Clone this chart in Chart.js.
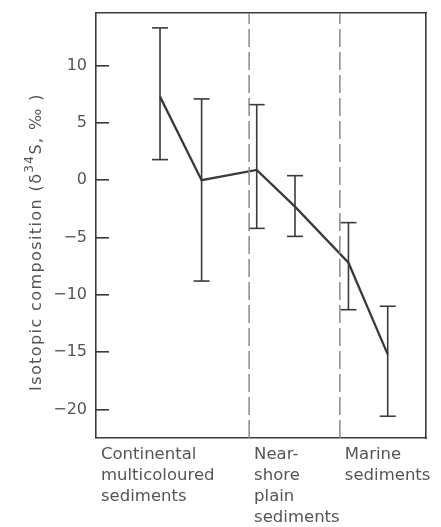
<!DOCTYPE html>
<html>
<head>
<meta charset="utf-8">
<script src="https://cdn.jsdelivr.net/npm/chart.js@4.4.1/dist/chart.umd.min.js"></script>
<style>
    html, body { margin: 0; padding: 0; background: #fff; }
    #wrap { width: 441px; height: 527px; }
</style>
</head>
<body>
<div id="wrap"><canvas id="chart"></canvas></div>
<script>
// ==================== DATA ====================

const zoneLabels = [
    ['Continental', 'multicoloured', 'sediments'],
    ['Near-', 'shore', 'plain', 'sediments'],
    ['Marine', 'sediments']
];
const zoneStarts = [0, 46.4, 73.9];          // left edge of each zone
const zoneDividers = [46.4, 73.9];

const sampleX = [19.4, 32.0, 48.7, 60.3, 76.5, 88.4];
const meanD34S = [7.3, 0.0, 0.9, -2.3, -7.2, -15.2];
const lowD34S = [1.8, -8.8, -4.2, -4.9, -11.3, -20.6];
const highD34S = [13.3, 7.1, 6.6, 0.4, -3.7, -11.0];

const yTicks = [-20, -15, -10, -5, 0, 5, 10];
const yMin = -22.5;
const yMax = 14.6;

// ==================== CHART ====================

const ink = '#3a3a3a';
const textColor = '#555';
const font = 'DejaVu Sans';

const datasets = [];

zoneDividers.forEach(x => {
    datasets.push({
        data: [{ x, y: yMin }, { x, y: yMax }],
        showLine: true,
        borderColor: '#8a8a8a',
        borderWidth: 1.5,
        borderDash: [18, 5],
        pointRadius: 0
    });
});

sampleX.forEach((x, i) => {
    datasets.push({
        data: [{ x, y: lowD34S[i] }, { x, y: highD34S[i] }],
        showLine: true,
        borderColor: ink,
        borderWidth: 1.6,
        pointStyle: 'line',
        pointRadius: 8,
        pointBorderWidth: 1.6,
        pointBorderColor: ink
    });
});

datasets.push({
    data: sampleX.map((x, i) => ({ x, y: meanD34S[i] })),
    showLine: true,
    borderColor: ink,
    borderWidth: 2.3,
    pointRadius: 0
});

// rotated axis title with a superscript isotope number
const yTitlePlugin = {
    id: 'yTitle',
    afterDraw(chart) {
        const ctx = chart.ctx;
        const parts = [
            { t: 'Isotopic composition (δ', sup: false },
            { t: '34', sup: true },
            { t: 'S, ‰ )', sup: false }
        ];
        const main = '16px "' + font + '"';
        const small = '12px "' + font + '"';
        ctx.save();
        ctx.letterSpacing = '1.4px';
        let total = 0;
        parts.forEach(p => {
            ctx.font = p.sup ? small : main;
            p.w = ctx.measureText(p.t).width;
            total += p.w;
        });
        ctx.translate(41, 242);
        ctx.rotate(-Math.PI / 2);
        ctx.fillStyle = textColor;
        ctx.textBaseline = 'alphabetic';
        let x = -total / 2;
        parts.forEach(p => {
            ctx.font = p.sup ? small : main;
            ctx.fillText(p.t, x, p.sup ? -8 : 0);
            x += p.w;
        });
        ctx.restore();
    }
};

new Chart(document.getElementById('chart'), {
    type: 'scatter',
    data: { datasets },
    plugins: [yTitlePlugin],
    options: {
        responsive: true,
        maintainAspectRatio: false,
        animation: false,
        layout: { padding: { top: 13, right: 15, left: 0, bottom: 0 } },
        plugins: {
            legend: { display: false },
            tooltip: { enabled: false }
        },
        scales: {
            x: {
                type: 'linear',
                position: 'bottom',
                min: 0,
                max: 100,
                afterBuildTicks: s => { s.ticks = zoneStarts.map(v => ({ value: v })); },
                afterFit: s => {
                    s.height = 89;
                    s.paddingLeft = 0;
                    s.paddingRight = 0;
                },
                grid: { drawOnChartArea: false, drawTicks: false },
                border: { color: ink, width: 1.6 },
                ticks: {
                    autoSkip: false,
                    maxRotation: 0,
                    align: 'start',
                    labelOffset: 5,
                    padding: 6,
                    color: textColor,
                    font: { family: font, size: 16.5, lineHeight: 1.27 },
                    callback: (v, i) => zoneLabels[i]
                }
            },
            xTop: {
                type: 'linear',
                position: 'top',
                min: 0,
                max: 100,
                afterFit: s => { s.height = 0; },
                grid: { drawOnChartArea: false, drawTicks: false },
                border: { color: ink, width: 1.6 },
                ticks: { display: false }
            },
            y: {
                type: 'linear',
                position: 'left',
                min: yMin,
                max: yMax,
                afterBuildTicks: s => { s.ticks = yTicks.map(v => ({ value: v })); },
                afterFit: s => {
                    s.width = 96;
                    s.paddingTop = 0;
                    s.paddingBottom = 0;
                },
                grid: { drawOnChartArea: false, tickLength: -13, color: ink, lineWidth: 1.6 },
                border: { color: ink, width: 1.6 },
                ticks: {
                    padding: 22,
                    color: textColor,
                    font: { family: font, size: 16 },
                    callback: v => String(v).replace('-', '−')
                }
            },
            yRight: {
                type: 'linear',
                position: 'right',
                min: yMin,
                max: yMax,
                afterFit: s => { s.width = 0; },
                grid: { drawOnChartArea: false, drawTicks: false },
                border: { color: ink, width: 1.6 },
                ticks: { display: false }
            }
        }
    }
});
</script>
</body>
</html>
